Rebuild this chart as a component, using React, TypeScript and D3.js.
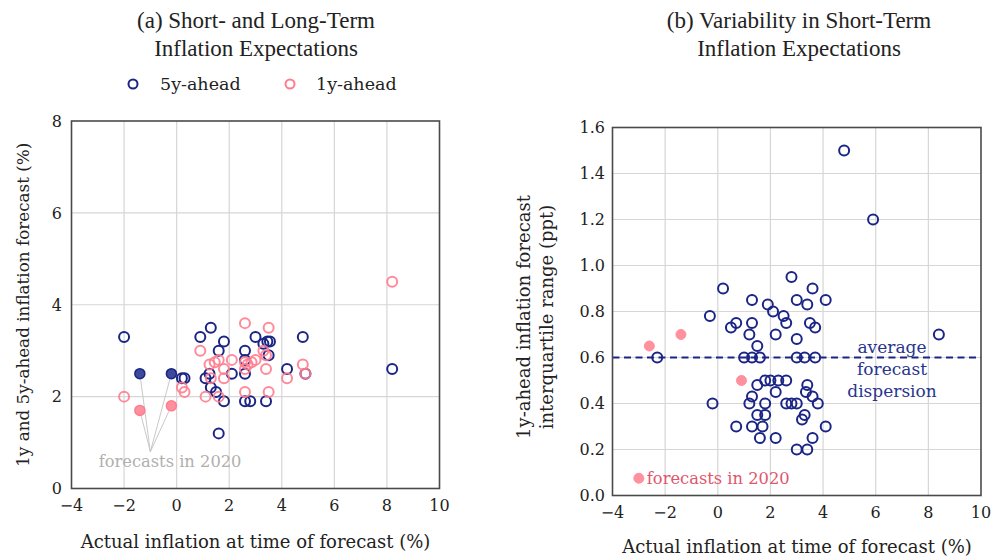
import React from "react";
import * as d3 from "d3";

// ---------- data ----------
const xTicks = [-4, -2, 0, 2, 4, 6, 8, 10];
const yTicksA = [0, 2, 4, 6, 8];
const yTicksB = [0, 0.2, 0.4, 0.6, 0.8, 1.0, 1.2, 1.4, 1.6];

// Panel (a): [actual inflation, forecast]
const fiveYearAhead: [number, number][] = [
  [-2.0, 3.3], [0.2, 2.4], [0.3, 2.4], [0.9, 3.3], [1.3, 3.5], [1.8, 3.2],
  [1.6, 3.0], [1.1, 2.4], [1.25, 2.5], [1.3, 2.2], [1.5, 2.1], [1.8, 1.9],
  [1.6, 1.2], [2.1, 2.5], [2.6, 3.0], [2.6, 2.8], [2.6, 2.5], [2.6, 1.9],
  [2.8, 1.9], [3.0, 3.3], [3.3, 3.15], [3.45, 3.2], [3.55, 3.2], [3.5, 2.9],
  [3.4, 1.9], [4.2, 2.6], [4.8, 3.3], [4.9, 2.5], [8.2, 2.6],
];
const fiveYear2020: [number, number][] = [[-1.4, 2.5], [-0.2, 2.5]];

const oneYearAhead: [number, number][] = [
  [-2.0, 2.0], [0.2, 2.2], [0.3, 2.1], [0.9, 3.0], [1.1, 2.0], [1.25, 2.7],
  [1.45, 2.75], [1.6, 2.8], [1.3, 2.4], [1.8, 2.6], [1.8, 2.4], [1.6, 2.0],
  [2.1, 2.8], [2.6, 3.6], [2.6, 2.75], [2.6, 2.6], [2.7, 2.7], [2.85, 2.75],
  [3.0, 2.8], [3.3, 3.0], [3.4, 2.9], [3.5, 3.5], [3.4, 2.6], [2.6, 2.1],
  [3.5, 2.1], [4.2, 2.4], [4.8, 2.7], [4.9, 2.5], [8.2, 4.5],
];
const oneYear2020: [number, number][] = [[-1.4, 1.7], [-0.2, 1.8]];

// Panel (b): [actual inflation, interquartile range]
const dispersion: [number, number][] = [
  [-2.3, 0.6], [-0.2, 0.4], [-0.3, 0.78], [0.2, 0.9], [0.5, 0.73], [0.7, 0.75],
  [0.7, 0.3], [1.0, 0.6], [1.3, 0.6], [1.6, 0.6], [1.3, 0.85], [1.3, 0.75],
  [1.2, 0.7], [1.5, 0.65], [1.5, 0.48], [1.3, 0.43], [1.2, 0.4], [1.8, 0.4],
  [1.5, 0.35], [1.8, 0.35], [1.3, 0.3], [1.7, 0.3], [1.6, 0.25], [2.2, 0.25],
  [1.8, 0.5], [2.0, 0.5], [2.3, 0.5], [2.6, 0.5], [2.2, 0.45], [1.9, 0.83],
  [2.1, 0.8], [2.5, 0.78], [2.6, 0.75], [2.2, 0.7], [2.8, 0.95], [3.0, 0.85],
  [3.0, 0.68], [3.0, 0.6], [2.6, 0.4], [2.8, 0.4], [3.0, 0.4], [3.0, 0.2],
  [3.6, 0.9], [3.4, 0.83], [4.1, 0.85], [3.5, 0.75], [3.7, 0.73], [3.3, 0.6],
  [3.7, 0.6], [8.4, 0.7], [3.4, 0.48], [3.35, 0.45], [3.6, 0.43], [3.8, 0.4],
  [3.3, 0.35], [3.2, 0.33], [4.1, 0.3], [3.6, 0.25], [3.4, 0.2], [4.8, 1.5],
  [5.9, 1.2],
];
const dispersion2020: [number, number][] = [[-2.6, 0.65], [-1.4, 0.7], [0.9, 0.5]];
const avgDispersion = 0.6;

// ---------- styles ----------
const NAVY = "#1b2585";
const NAVY_FILL = "#3c4a9c";
const PINK = "#ff7d8e";
const PINK_FILL = "#ff909e";
const GRID = "#d6d6d6";
const FRAME = "#4a4a4a";
const TXT = "#222";
const SERIF = "'DejaVu Serif', serif";
const TITLE_FONT = "'Liberation Serif', serif";
const R = 5;

const fmtTick = (v: number) => (v < 0 ? "\u2212" + Math.abs(v) : String(v));

export default function App() {
  // panel a scales
  const xA = d3.scaleLinear().domain([-4, 10]).range([71.5, 439.5]);
  const yA = d3.scaleLinear().domain([0, 8]).range([488.5, 121]);
  // panel b scales
  const xB = d3.scaleLinear().domain([-4, 10]).range([612.5, 981]);
  const yB = d3.scaleLinear().domain([0, 1.6]).range([495.5, 127.5]);

  const apex: [number, number] = [-1.0, 0.8];
  const ax = xA(apex[0]);
  const ay = yA(apex[1]);
  const pointers = [...fiveYear2020, ...oneYear2020].map(([x, y], i) => {
    const px = xA(x);
    const py = yA(y);
    const dx = px - ax;
    const dy = py - ay;
    const len = Math.sqrt(dx * dx + dy * dy);
    const k = (len - R - 1) / len;
    return <line key={i} x1={ax} y1={ay} x2={ax + dx * k} y2={ay + dy * k} stroke="#c9c9c9" strokeWidth={1} />;
  });

  return (
    <svg width={992} height={560} style={{ position: "absolute", left: 0, top: 0, background: "#fff" }}>
      {/* ===== Panel (a) ===== */}
      <g>
        <text x={256} y={27.5} textAnchor="middle" fontFamily={TITLE_FONT} fontSize={23} fill={TXT}>
          (a) Short- and Long-Term
        </text>
        <text x={256} y={55.5} textAnchor="middle" fontFamily={TITLE_FONT} fontSize={23} fill={TXT}>
          Inflation Expectations
        </text>
        {/* legend */}
        <circle cx={133} cy={84} r={4.5} fill="none" stroke={NAVY} strokeWidth={2} />
        <text x={160} y={89.5} fontFamily={SERIF} fontSize={17.5} fill={TXT}>5y-ahead</text>
        <circle cx={290} cy={84} r={4.5} fill="none" stroke={PINK} strokeWidth={2} />
        <text x={316} y={89.5} fontFamily={SERIF} fontSize={17.5} fill={TXT}>1y-ahead</text>

        {/* grid */}
        {xTicks.slice(1, -1).map((t) => (
          <line key={"gxa" + t} x1={xA(t)} x2={xA(t)} y1={yA(0)} y2={yA(8)} stroke={GRID} strokeWidth={1.2} />
        ))}
        {yTicksA.slice(1, -1).map((t) => (
          <line key={"gya" + t} x1={xA(-4)} x2={xA(10)} y1={yA(t)} y2={yA(t)} stroke={GRID} strokeWidth={1.2} />
        ))}

        {/* annotation */}
        {pointers}
        <text x={xA(-0.25)} y={yA(0.47)} textAnchor="middle" fontFamily={SERIF} fontSize={16.3} fill="#b0b0b0">
          forecasts in 2020
        </text>

        {/* points */}
        {fiveYearAhead.map(([x, y], i) => (
          <circle key={"f" + i} cx={xA(x)} cy={yA(y)} r={R} fill="none" stroke={NAVY} strokeWidth={2} />
        ))}
        {fiveYear2020.map(([x, y], i) => (
          <circle key={"f20" + i} cx={xA(x)} cy={yA(y)} r={R} fill={NAVY_FILL} stroke={NAVY} strokeWidth={1.5} />
        ))}
        {oneYearAhead.map(([x, y], i) => (
          <circle key={"o" + i} cx={xA(x)} cy={yA(y)} r={R} fill="none" stroke={PINK} strokeWidth={2} strokeOpacity={0.9} />
        ))}
        {oneYear2020.map(([x, y], i) => (
          <circle key={"o20" + i} cx={xA(x)} cy={yA(y)} r={R} fill={PINK_FILL} stroke={PINK} strokeWidth={1.5} />
        ))}

        {/* frame */}
        <rect x={xA(-4)} y={yA(8)} width={xA(10) - xA(-4)} height={yA(0) - yA(8)} fill="none" stroke={FRAME} strokeWidth={1.6} />

        {/* ticks */}
        {xTicks.map((t) => (
          <text key={"xta" + t} x={xA(t)} y={511} textAnchor="middle" fontFamily={SERIF} fontSize={16} fill={TXT}>
            {fmtTick(t)}
          </text>
        ))}
        {yTicksA.map((t) => (
          <text key={"yta" + t} x={62} y={yA(t)} dy="0.36em" textAnchor="end" fontFamily={SERIF} fontSize={16} fill={TXT}>
            {t}
          </text>
        ))}
        <text x={255.5} y={548} textAnchor="middle" fontFamily={SERIF} fontSize={18} fill={TXT}>
          Actual inflation at time of forecast (%)
        </text>
        <text transform={`translate(29,${(yA(0) + yA(8)) / 2}) rotate(-90)`} textAnchor="middle" fontFamily={SERIF} fontSize={16.8} fill={TXT}>
          1y and 5y-ahead inflation forecast (%)
        </text>
      </g>

      {/* ===== Panel (b) ===== */}
      <g>
        <text x={799} y={27.5} textAnchor="middle" fontFamily={TITLE_FONT} fontSize={23} fill={TXT}>
          (b) Variability in Short-Term
        </text>
        <text x={799} y={55.5} textAnchor="middle" fontFamily={TITLE_FONT} fontSize={23} fill={TXT}>
          Inflation Expectations
        </text>

        {xTicks.slice(1, -1).map((t) => (
          <line key={"gxb" + t} x1={xB(t)} x2={xB(t)} y1={yB(0)} y2={yB(1.6)} stroke={GRID} strokeWidth={1.2} />
        ))}
        {yTicksB.slice(1, -1).map((t) => (
          <line key={"gyb" + t} x1={xB(-4)} x2={xB(10)} y1={yB(t)} y2={yB(t)} stroke={GRID} strokeWidth={1.2} />
        ))}

        <line x1={xB(-4)} x2={xB(10)} y1={yB(avgDispersion)} y2={yB(avgDispersion)} stroke={NAVY} strokeWidth={2} strokeDasharray="7,4.5" />
        {["average", "forecast", "dispersion"].map((s, i) => (
          <text key={s} x={892} y={353 + i * 22} textAnchor="middle" fontFamily={SERIF} fontSize={17} fill="#28348f">
            {s}
          </text>
        ))}

        {dispersion.map(([x, y], i) => (
          <circle key={"d" + i} cx={xB(x)} cy={yB(y)} r={R} fill="none" stroke={NAVY} strokeWidth={2} />
        ))}
        {dispersion2020.map(([x, y], i) => (
          <circle key={"d20" + i} cx={xB(x)} cy={yB(y)} r={R} fill={PINK_FILL} stroke={PINK_FILL} strokeWidth={1} />
        ))}

        {/* 2020 legend note */}
        <circle cx={xB(-3.0)} cy={yB(0.075)} r={R} fill={PINK_FILL} stroke={PINK_FILL} strokeWidth={1} />
        <text x={xB(-3.0) + 8} y={484} fontFamily={SERIF} fontSize={16.3} fill="#e0566d">
          forecasts in 2020
        </text>

        <rect x={xB(-4)} y={yB(1.6)} width={xB(10) - xB(-4)} height={yB(0) - yB(1.6)} fill="none" stroke={FRAME} strokeWidth={1.6} />

        {xTicks.map((t) => (
          <text key={"xtb" + t} x={xB(t)} y={518} textAnchor="middle" fontFamily={SERIF} fontSize={16} fill={TXT}>
            {fmtTick(t)}
          </text>
        ))}
        {yTicksB.map((t) => (
          <text key={"ytb" + t} x={605} y={yB(t)} dy="0.36em" textAnchor="end" fontFamily={SERIF} fontSize={16} fill={TXT}>
            {t.toFixed(1)}
          </text>
        ))}
        <text x={797} y={553} textAnchor="middle" fontFamily={SERIF} fontSize={18} fill={TXT}>
          Actual inflation at time of forecast (%)
        </text>
        <text transform={`translate(530,317) rotate(-90)`} textAnchor="middle" fontFamily={SERIF} fontSize={18} fill={TXT}>
          1y-ahead inflation forecast
        </text>
        <text transform={`translate(553,317) rotate(-90)`} textAnchor="middle" fontFamily={SERIF} fontSize={18} fill={TXT}>
          interquartile range (ppt)
        </text>
      </g>
    </svg>
  );
}
